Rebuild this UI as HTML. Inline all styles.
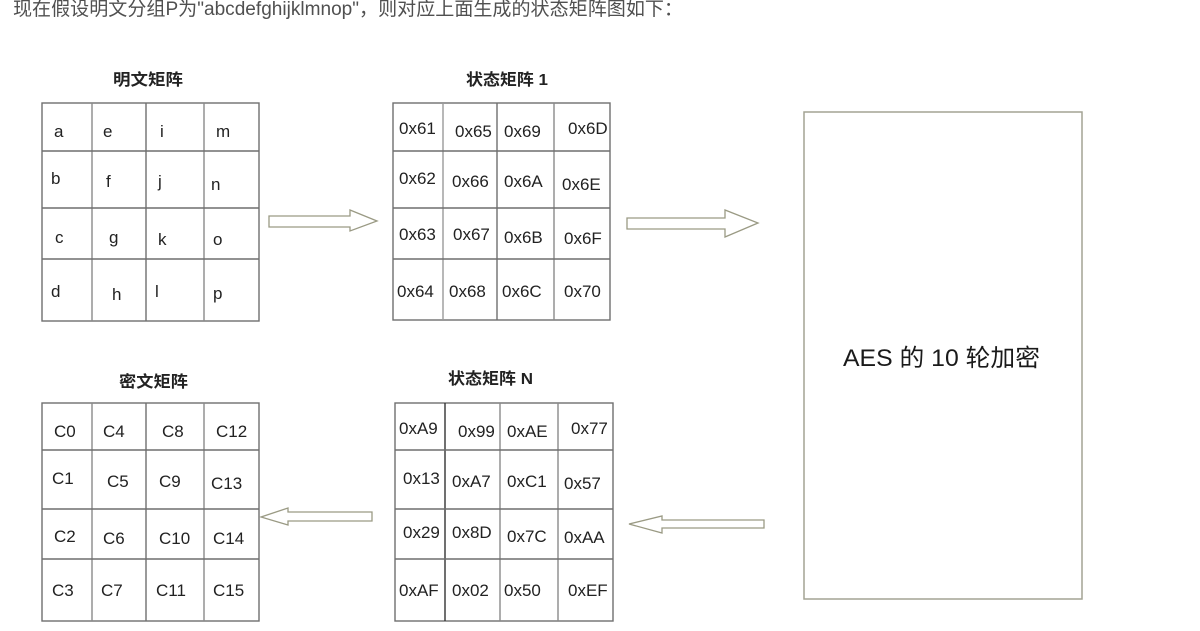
<!DOCTYPE html>
<html>
<head>
<meta charset="utf-8">
<style>
  html, body { margin: 0; padding: 0; background: #ffffff; }
  body { width: 1200px; height: 631px; overflow: hidden; position: relative; }
  svg { position: absolute; left: 0; top: 0; }
  .cell { font-family: "Liberation Sans", Arial, sans-serif; font-size: 17px; fill: #222; }
  .ttl { font-family: "Liberation Sans", "Noto Sans CJK SC", sans-serif; font-size: 16px; fill: #222; font-weight: 600; }
  .grid { stroke: #6f6f6f; stroke-width: 1.4; fill: none; }
  .arrow { fill: #ffffff; stroke: #9a9a84; stroke-width: 1.3; stroke-linejoin: miter; }
</style>
</head>
<body>
<svg width="1200" height="631" viewBox="0 0 1200 631" xmlns="http://www.w3.org/2000/svg">
  <!-- top caption -->
  <text x="13" y="15" font-family="'Liberation Sans', 'Noto Sans CJK SC', sans-serif" font-size="19" fill="#505050" textLength="670" lengthAdjust="spacingAndGlyphs">现在假设明文分组P为"abcdefghijklmnop"，则对应上面生成的状态矩阵图如下：</text>

  <!-- Titles -->
  <text class="ttl" x="113" y="85" textLength="70" lengthAdjust="spacingAndGlyphs">明文矩阵</text>
  <text class="ttl" x="466" y="85" textLength="82" lengthAdjust="spacingAndGlyphs">状态矩阵 1</text>
  <text class="ttl" x="119" y="387" textLength="69" lengthAdjust="spacingAndGlyphs">密文矩阵</text>
  <text class="ttl" x="448" y="384" textLength="85" lengthAdjust="spacingAndGlyphs">状态矩阵 N</text>

  <!-- Plaintext matrix -->
  <g class="grid">
    <rect x="42" y="103" width="217" height="218"/>
    <line x1="92" y1="103" x2="92" y2="321" stroke="#8a8a8a"/>
    <line x1="146" y1="103" x2="146" y2="321"/>
    <line x1="204" y1="103" x2="204" y2="321" stroke="#8a8a8a"/>
    <line x1="42" y1="151" x2="259" y2="151"/>
    <line x1="42" y1="208" x2="259" y2="208"/>
    <line x1="42" y1="259" x2="259" y2="259"/>
  </g>
  <g class="cell">
    <text x="54" y="137">a</text>
    <text x="103" y="137">e</text>
    <text x="160" y="137">i</text>
    <text x="216" y="137">m</text>
    <text x="51" y="184">b</text>
    <text x="106" y="187">f</text>
    <text x="158" y="187">j</text>
    <text x="211" y="190">n</text>
    <text x="55" y="243">c</text>
    <text x="109" y="243">g</text>
    <text x="158" y="245">k</text>
    <text x="213" y="245">o</text>
    <text x="51" y="297">d</text>
    <text x="112" y="300">h</text>
    <text x="155" y="297">l</text>
    <text x="213" y="299">p</text>
  </g>

  <!-- State matrix 1 -->
  <g class="grid">
    <rect x="393" y="103" width="217" height="217"/>
    <line x1="443" y1="103" x2="443" y2="320" stroke="#9a9a9a"/>
    <line x1="497" y1="103" x2="497" y2="320"/>
    <line x1="554" y1="103" x2="554" y2="320" stroke="#8a8a8a"/>
    <line x1="393" y1="151" x2="610" y2="151"/>
    <line x1="393" y1="208" x2="610" y2="208"/>
    <line x1="393" y1="259" x2="610" y2="259"/>
  </g>
  <g class="cell">
    <text x="399" y="134">0x61</text>
    <text x="455" y="137">0x65</text>
    <text x="504" y="137">0x69</text>
    <text x="568" y="134">0x6D</text>
    <text x="399" y="184">0x62</text>
    <text x="452" y="187">0x66</text>
    <text x="504" y="187">0x6A</text>
    <text x="562" y="190">0x6E</text>
    <text x="399" y="240">0x63</text>
    <text x="453" y="240">0x67</text>
    <text x="504" y="243">0x6B</text>
    <text x="564" y="244">0x6F</text>
    <text x="397" y="297">0x64</text>
    <text x="449" y="297">0x68</text>
    <text x="502" y="297">0x6C</text>
    <text x="564" y="297">0x70</text>
  </g>

  <!-- Cipher matrix -->
  <g class="grid">
    <rect x="42" y="403" width="217" height="218"/>
    <line x1="92" y1="403" x2="92" y2="621" stroke="#8a8a8a"/>
    <line x1="146" y1="403" x2="146" y2="621"/>
    <line x1="204" y1="403" x2="204" y2="621" stroke="#8a8a8a"/>
    <line x1="42" y1="450" x2="259" y2="450"/>
    <line x1="42" y1="509" x2="259" y2="509"/>
    <line x1="42" y1="559" x2="259" y2="559"/>
  </g>
  <g class="cell">
    <text x="54" y="437">C0</text>
    <text x="103" y="437">C4</text>
    <text x="162" y="437">C8</text>
    <text x="216" y="437">C12</text>
    <text x="52" y="484">C1</text>
    <text x="107" y="487">C5</text>
    <text x="159" y="487">C9</text>
    <text x="211" y="489">C13</text>
    <text x="54" y="542">C2</text>
    <text x="103" y="544">C6</text>
    <text x="159" y="544">C10</text>
    <text x="213" y="544">C14</text>
    <text x="52" y="596">C3</text>
    <text x="101" y="596">C7</text>
    <text x="156" y="596">C11</text>
    <text x="213" y="596">C15</text>
  </g>

  <!-- State matrix N -->
  <g class="grid">
    <rect x="395" y="403" width="218" height="218"/>
    <line x1="445" y1="403" x2="445" y2="621" stroke="#333"/>
    <line x1="500" y1="403" x2="500" y2="621" stroke="#8a8a8a"/>
    <line x1="558" y1="403" x2="558" y2="621" stroke="#8a8a8a"/>
    <line x1="395" y1="450" x2="613" y2="450"/>
    <line x1="395" y1="509" x2="613" y2="509"/>
    <line x1="395" y1="559" x2="613" y2="559"/>
  </g>
  <g class="cell">
    <text x="399" y="434">0xA9</text>
    <text x="458" y="437">0x99</text>
    <text x="507" y="437">0xAE</text>
    <text x="571" y="434">0x77</text>
    <text x="403" y="484">0x13</text>
    <text x="452" y="487">0xA7</text>
    <text x="507" y="487">0xC1</text>
    <text x="564" y="489">0x57</text>
    <text x="403" y="538">0x29</text>
    <text x="452" y="538">0x8D</text>
    <text x="507" y="542">0x7C</text>
    <text x="564" y="543">0xAA</text>
    <text x="399" y="596">0xAF</text>
    <text x="452" y="596">0x02</text>
    <text x="504" y="596">0x50</text>
    <text x="568" y="596">0xEF</text>
  </g>

  <!-- AES box -->
  <rect x="804" y="112" width="278" height="487" fill="#ffffff" stroke="#a3a394" stroke-width="1.5"/>
  <text x="843" y="366" font-family="'Liberation Sans', 'Noto Sans CJK SC', sans-serif" font-size="24" fill="#1a1a1a" textLength="197" lengthAdjust="spacingAndGlyphs">AES 的 10 轮加密</text>

  <!-- Arrows -->
  <polygon class="arrow" points="269,216 350,216 350,210 377,221 350,231 350,227 269,227"/>
  <polygon class="arrow" points="627,218 725,218 725,210 758,223 725,237 725,229 627,229"/>
  <polygon class="arrow" points="261,517 288,508 288,512 372,512 372,521 288,521 288,525"/>
  <polygon class="arrow" points="629,524 662,516 662,520 764,520 764,528 662,528 662,533"/>
</svg>
</body>
</html>
